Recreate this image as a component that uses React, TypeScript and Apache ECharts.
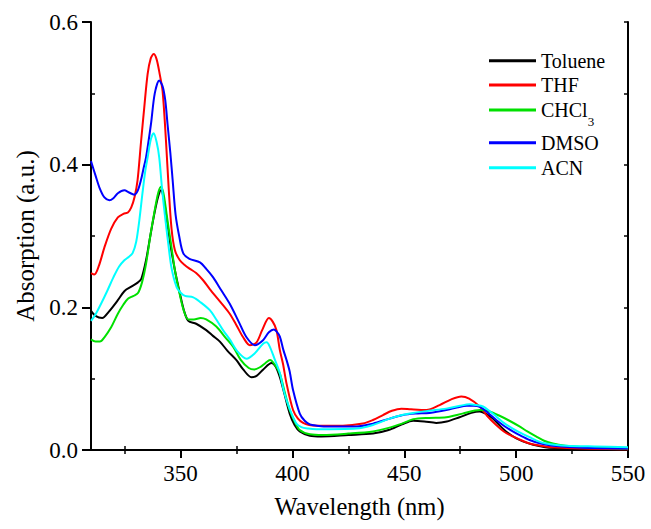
import React, { useEffect, useRef } from "react";
import * as echarts from "echarts";

// ---- data ----
const seriesNames = ["Toluene", "THF", "CHCl3", "DMSO", "ACN"];
const seriesColors = ["#000000", "#ff0000", "#00e000", "#0000ff", "#00ffff"];

const tolueneX = [310, 312, 315, 318, 322, 325, 328, 331, 332.5, 334.6, 336.5, 338.3, 340, 341.3, 342.5, 344, 345.7, 347.5, 349.4, 351.5, 353.5, 357, 361.5, 364.5, 367.6, 371, 375, 378, 381.7, 384, 387, 390.7, 392.5, 394.4, 396.5, 398.8, 401, 403.3, 407.8, 413, 425, 436, 443, 449, 454, 459, 464.3, 469, 474.7, 480, 483.7, 487, 489.6, 495.5, 503, 513, 525, 550];
const tolueneY = [0.195, 0.188, 0.185, 0.194, 0.21, 0.223, 0.229, 0.235, 0.24, 0.266, 0.3, 0.331, 0.355, 0.364, 0.352, 0.32, 0.284, 0.252, 0.224, 0.196, 0.181, 0.177, 0.168, 0.16, 0.152, 0.139, 0.126, 0.113, 0.102, 0.104, 0.113, 0.122, 0.117, 0.102, 0.078, 0.051, 0.035, 0.026, 0.02, 0.019, 0.021, 0.023, 0.028, 0.036, 0.041, 0.04, 0.038, 0.04, 0.046, 0.052, 0.054, 0.05, 0.044, 0.026, 0.012, 0.004, 0.002, 0.001];

const thfX = [310, 311.5, 313.5, 316, 319, 322, 324.5, 326.5, 328, 329.5, 330.8, 332.3, 333.8, 335.3, 336.7, 338, 339.3, 340.7, 342, 343.5, 344.7, 346, 347.5, 349.7, 352, 354.2, 357, 360.1, 363, 366.1, 369, 372, 375, 378, 381, 384, 386.5, 389.5, 391.2, 392.9, 394.4, 395.8, 397.4, 400.3, 402.5, 404.8, 407.5, 411, 422.6, 431.5, 436, 440.5, 444.5, 448.7, 453, 459.9, 465.8, 471, 475.5, 479, 483.7, 487, 491.1, 494.5, 498.5, 502, 506, 511, 516, 530, 550];
const thfY = [0.248, 0.246, 0.258, 0.284, 0.31, 0.326, 0.331, 0.333, 0.34, 0.355, 0.378, 0.43, 0.48, 0.527, 0.549, 0.555, 0.548, 0.527, 0.503, 0.434, 0.368, 0.31, 0.28, 0.266, 0.259, 0.254, 0.248, 0.238, 0.226, 0.214, 0.203, 0.191, 0.175, 0.158, 0.147, 0.151, 0.168, 0.185, 0.18, 0.168, 0.14, 0.121, 0.093, 0.056, 0.044, 0.038, 0.035, 0.034, 0.034, 0.037, 0.042, 0.049, 0.055, 0.058, 0.057, 0.056, 0.063, 0.071, 0.075, 0.072, 0.061, 0.048, 0.035, 0.026, 0.019, 0.014, 0.009, 0.006, 0.004, 0.002, 0.001];

const chcl3X = [310, 312, 314, 316, 319, 322, 324.5, 326.5, 329, 331, 332.8, 334.6, 336.5, 338.3, 340, 341.3, 342.5, 344, 345.7, 347.5, 349.4, 351.5, 353.5, 356, 359, 361.5, 366, 370, 373.5, 377, 380.5, 383, 385.5, 388, 390, 392.5, 394.4, 396.5, 398.8, 401, 403.3, 407.8, 413.7, 425, 436, 443, 449, 454, 461, 468.8, 476, 483.7, 488, 492.6, 497, 501.5, 505, 508.9, 512.5, 516.4, 522, 530, 550];
const chcl3Y = [0.155, 0.152, 0.152, 0.158, 0.172, 0.191, 0.204, 0.212, 0.216, 0.22, 0.235, 0.261, 0.3, 0.333, 0.36, 0.369, 0.358, 0.326, 0.29, 0.252, 0.222, 0.195, 0.183, 0.183, 0.185, 0.183, 0.173, 0.158, 0.145, 0.126, 0.115, 0.113, 0.116, 0.122, 0.126, 0.118, 0.107, 0.082, 0.056, 0.04, 0.028, 0.022, 0.021, 0.023, 0.026, 0.031, 0.037, 0.043, 0.045, 0.046, 0.051, 0.056, 0.054, 0.048, 0.041, 0.033, 0.026, 0.019, 0.013, 0.009, 0.006, 0.004, 0.002];

const dmsoX = [310, 312, 314, 316, 318.2, 320, 322, 324.9, 327, 329.3, 330.8, 332.3, 333.5, 334.6, 336.8, 338.5, 340.5, 342, 343.2, 344.2, 345.5, 346.5, 347.8, 349.4, 351.2, 354, 358.7, 361.5, 364.6, 368, 372, 376, 379.5, 383.2, 386.9, 389.5, 391.7, 393, 394.4, 396, 397.4, 398.8, 400.3, 403.3, 405.5, 407.8, 411, 414, 428.6, 436, 443.5, 449.4, 455, 461.3, 468.8, 474, 478, 481, 484, 487.5, 491.1, 494.5, 498.5, 502, 506, 511, 516.4, 530, 550];
const dmsoY = [0.405, 0.385, 0.366, 0.354, 0.35, 0.353, 0.36, 0.364, 0.361, 0.358, 0.363, 0.378, 0.395, 0.41, 0.457, 0.5, 0.518, 0.51, 0.49, 0.457, 0.415, 0.378, 0.33, 0.3, 0.276, 0.268, 0.263, 0.254, 0.242, 0.225, 0.205, 0.18, 0.158, 0.147, 0.154, 0.165, 0.169, 0.166, 0.159, 0.14, 0.126, 0.11, 0.084, 0.051, 0.041, 0.036, 0.034, 0.033, 0.033, 0.037, 0.044, 0.049, 0.051, 0.052, 0.056, 0.06, 0.062, 0.062, 0.06, 0.052, 0.042, 0.034, 0.026, 0.02, 0.014, 0.009, 0.006, 0.003, 0.002];

const acnX = [310, 312, 314.5, 317.4, 320, 322.5, 324.9, 327, 328.6, 330.2, 331.6, 333, 334.2, 335.3, 336.7, 338, 339.3, 340.5, 341.7, 343, 344.5, 346, 348.3, 350.2, 352, 355.7, 359, 363.1, 366, 369, 372, 375.5, 379.5, 383, 386.9, 388.5, 389.9, 392, 394.4, 396, 397.4, 399.5, 401.8, 404, 407, 410.7, 428.6, 436, 443.5, 449, 453.9, 461, 468.8, 475, 479.2, 482, 485.2, 488, 491.1, 494.5, 498.5, 502, 506, 510, 513.4, 518, 522.4, 535, 550];
const acnY = [0.181, 0.19, 0.205, 0.224, 0.242, 0.257, 0.266, 0.271, 0.276, 0.292, 0.322, 0.36, 0.39, 0.41, 0.435, 0.444, 0.432, 0.41, 0.368, 0.33, 0.29, 0.255, 0.228, 0.22, 0.216, 0.214, 0.207, 0.196, 0.183, 0.168, 0.155, 0.138, 0.128, 0.135, 0.149, 0.151, 0.145, 0.128, 0.108, 0.085, 0.07, 0.052, 0.037, 0.032, 0.03, 0.029, 0.03, 0.035, 0.044, 0.049, 0.052, 0.055, 0.058, 0.062, 0.064, 0.063, 0.061, 0.055, 0.047, 0.038, 0.03, 0.024, 0.018, 0.012, 0.009, 0.007, 0.006, 0.005, 0.004];

const xMajorTicks = [350, 400, 450, 500, 550];
const xMinorTicks = [325, 375, 425, 475, 525];
const xTopTicks = [325, 350, 375, 400, 425, 450, 475, 500, 525];
const yMinorTicks = [0.1, 0.3, 0.5];

const xTitle = "Wavelength (nm)";
const yTitle = "Absorption (a.u.)";

const seriesX = [tolueneX, thfX, chcl3X, dmsoX, acnX];
const seriesY = [tolueneY, thfY, chcl3Y, dmsoY, acnY];

// legend row positions (layout)
const legendTops = [50.7, 75, 100, 132.7, 157.7];

const FONT = "Liberation Serif";

export default function App() {
  const ref = useRef<HTMLDivElement>(null);
  useEffect(() => {
    if (!ref.current) return;
    const chart = echarts.init(ref.current, undefined, { renderer: "svg" });
    const axisLine = { show: true, lineStyle: { color: "#000", width: 2 } };
    const option: any = {
      animation: false,
      backgroundColor: "#fff",
      textStyle: { fontFamily: FONT, color: "#000" },
      grid: { left: 91, right: 23, top: 22, bottom: 79, containLabel: false },
      legend: seriesNames.map((n, i) => ({
        show: true,
        data: [n],
        orient: "vertical",
        left: 489,
        top: legendTops[i],
        padding: 0,
        itemWidth: 47,
        itemHeight: 3,
        itemGap: 5,
        icon: "rect",
        selectedMode: false,
        formatter: (name: string) => (name === "CHCl3" ? "{a|CHCl}{s|3}" : name),
        textStyle: {
          fontFamily: FONT,
          fontSize: 20,
          color: "#000",
          rich: {
            a: { fontFamily: FONT, fontSize: 20, color: "#000" },
            s: { fontFamily: FONT, fontSize: 13, color: "#000", padding: [22, 0, 0, 0] },
          },
        },
      })),
      xAxis: [
        {
          type: "value",
          min: 310,
          max: 550,
          position: "bottom",
          axisLine,
          splitLine: { show: false },
          axisTick: { show: true, customValues: xMajorTicks, length: 8, inside: false, lineStyle: { color: "#000", width: 2 } },
          axisLabel: { show: true, customValues: xMajorTicks, margin: 12, fontFamily: FONT, fontSize: 23, color: "#000" },
          name: xTitle,
          nameLocation: "middle",
          nameGap: 44,
          nameTextStyle: { fontFamily: FONT, fontSize: 24.5, color: "#000" },
        },
        {
          type: "value",
          min: 310,
          max: 550,
          position: "bottom",
          axisLine: { show: false },
          splitLine: { show: false },
          axisTick: { show: true, customValues: xMinorTicks, length: 4, inside: true, lineStyle: { color: "#000", width: 1.5 } },
          axisLabel: { show: false },
        },
        {
          type: "value",
          min: 310,
          max: 550,
          position: "top",
          axisLine,
          splitLine: { show: false },
          axisTick: { show: true, customValues: xTopTicks, length: 4, inside: true, lineStyle: { color: "#000", width: 1.5 } },
          axisLabel: { show: false },
        },
      ],
      yAxis: [
        {
          type: "value",
          min: 0,
          max: 0.6,
          interval: 0.2,
          position: "left",
          axisLine,
          splitLine: { show: false },
          axisTick: { show: true, length: 9, inside: false, lineStyle: { color: "#000", width: 2 } },
          axisLabel: {
            margin: 13,
            fontFamily: FONT,
            fontSize: 23,
            color: "#000",
            formatter: (v: number) => v.toFixed(1),
          },
          name: yTitle,
          nameLocation: "middle",
          nameGap: 52,
          nameTextStyle: { fontFamily: FONT, fontSize: 25, color: "#000" },
        },
        {
          type: "value",
          min: 0,
          max: 0.6,
          position: "left",
          axisLine: { show: false },
          splitLine: { show: false },
          axisTick: { show: true, customValues: yMinorTicks, length: 4, inside: true, lineStyle: { color: "#000", width: 1.5 } },
          axisLabel: { show: false },
        },
        {
          type: "value",
          min: 0,
          max: 0.6,
          interval: 0.1,
          position: "right",
          axisLine,
          splitLine: { show: false },
          axisTick: { show: true, length: 4, inside: true, lineStyle: { color: "#000", width: 1.5 } },
          axisLabel: { show: false },
        },
      ],
      series: seriesNames.map((n, i) => ({
        name: n,
        type: "line",
        xAxisIndex: 0,
        yAxisIndex: 0,
        data: seriesX[i].map((x, j) => [x, seriesY[i][j]]),
        showSymbol: false,
        symbol: "none",
        smooth: 0.3,
        lineStyle: { color: seriesColors[i], width: 2 },
        itemStyle: { color: seriesColors[i] },
      })),
    };
    chart.setOption(option);
    return () => chart.dispose();
  }, []);
  return <div ref={ref} style={{ position: "fixed", left: 0, top: 0, width: 651, height: 529 }} />;
}
